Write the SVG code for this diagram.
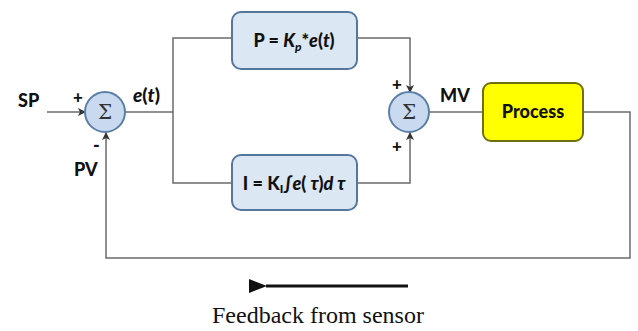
<svg xmlns="http://www.w3.org/2000/svg" width="638" height="331" viewBox="0 0 638 331">
<defs>
<marker id="ah" markerWidth="8" markerHeight="8" refX="7" refY="4" orient="auto" markerUnits="userSpaceOnUse"><path d="M0,0 L8,4 L0,8 L2,4 Z" fill="#333"/></marker>
<marker id="big" markerWidth="18" markerHeight="14" refX="1" refY="7" orient="auto" markerUnits="userSpaceOnUse"><path d="M18,0 L0,7 L18,14 Z" fill="#111"/></marker>
</defs>
<style>
.ln{fill:none;stroke:#6b6b6b;stroke-width:1.5}
.sum{fill:#c9daf0;stroke:#5b7fa6;stroke-width:2}
.box{fill:#dce7f4;stroke:#56779c;stroke-width:2}
.t{font-family:Lato,"Open Sans",sans-serif;font-weight:900;fill:#111}
.sg{font-family:"DejaVu Serif",serif;font-size:20px;fill:#333}
</style>
<rect width="638" height="331" fill="#fff"/>
<g id="connectors">
<line class="ln" x1="47" y1="112" x2="85" y2="112" marker-end="url(#ah)"/>
<polyline class="ln" points="125,112 173,112"/>
<polyline class="ln" points="232,38 173,38 173,183 232,183"/>
<polyline class="ln" points="357,38 410,38 410,92" marker-end="url(#ah)"/>
<polyline class="ln" points="357,183 410,183 410,133" marker-end="url(#ah)"/>
<line class="ln" x1="430" y1="112" x2="483" y2="112"/>
<polyline class="ln" points="583,112 630,112 630,258 106,258 106,133" marker-end="url(#ah)"/>
<line x1="408" y1="286" x2="266" y2="286" stroke="#111" stroke-width="3" marker-end="url(#big)"/>
</g>
<g id="sum1">
<circle class="sum" cx="105" cy="112" r="20"/>
<text class="sg" x="105" y="119" text-anchor="middle">Σ</text>
</g>
<g id="sum2">
<circle class="sum" cx="409" cy="112" r="20"/>
<text class="sg" x="409" y="119" text-anchor="middle">Σ</text>
</g>
<g id="pbox">
<rect class="box" x="232" y="12" width="125" height="57" rx="9"/>
<text class="t" x="294" y="47" font-size="18" text-anchor="middle">P = <tspan font-style="italic">K</tspan><tspan font-style="italic" font-size="12" dy="4">p</tspan><tspan dy="-4">*</tspan><tspan font-style="italic">e</tspan>(<tspan font-style="italic">t</tspan>)</text>
</g>
<g id="ibox">
<rect class="box" x="232" y="155" width="125" height="55" rx="9"/>
<text class="t" x="294" y="190" font-size="18" text-anchor="middle">I = K<tspan font-size="12" dy="3">I</tspan><tspan dy="-3">∫</tspan><tspan font-style="italic">e</tspan>( <tspan font-style="italic">τ</tspan>)<tspan font-style="italic">d τ</tspan></text>
</g>
<g id="process">
<rect x="483" y="83" width="100" height="58" rx="8" fill="#ffff00" stroke="#6f6f10" stroke-width="2"/>
<text class="t" x="533" y="118" font-size="18" text-anchor="middle">Process</text>
</g>
<g id="labels">
<text class="t" x="18" y="107" font-size="18">SP</text>
<text class="t" x="73" y="103" font-size="17">+</text>
<text class="t" x="93" y="152" font-size="18">-</text>
<text class="t" x="74" y="176" font-size="18">PV</text>
<text class="t" x="133" y="102" font-size="19"><tspan font-style="italic">e</tspan>(<tspan font-style="italic">t</tspan>)</text>
<text class="t" x="392" y="90" font-size="17">+</text>
<text class="t" x="392" y="152" font-size="17">+</text>
<text class="t" x="440" y="102" font-size="18">MV</text>
<text x="212" y="323" font-family="Liberation Serif,serif" font-size="24" fill="#111">Feedback from sensor</text>
</g>
</svg>
